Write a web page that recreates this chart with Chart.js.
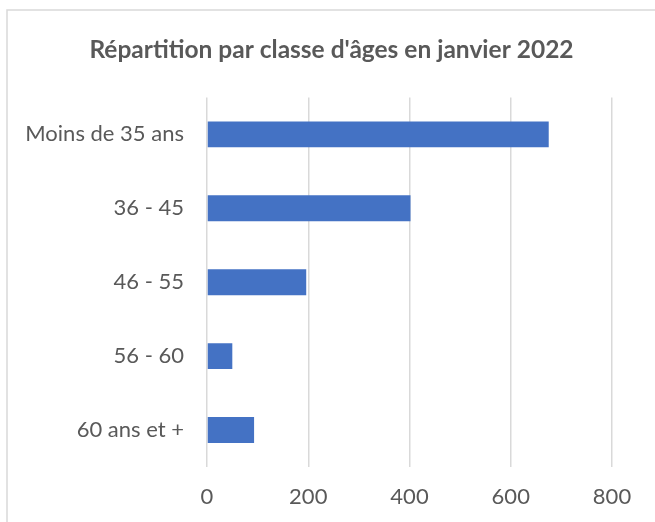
<!DOCTYPE html>
<html>
<head>
<meta charset="utf-8">
<script src="https://cdn.jsdelivr.net/npm/chart.js@4/dist/chart.umd.min.js"></script>
<style>
  html, body { margin: 0; padding: 0; background: #fff; }
  #wrap { width: 655px; height: 522px; }
</style>
</head>
<body>
<div id="wrap"><canvas id="myChart" width="655" height="522"></canvas></div>
<script>
// data
var categories = ["Moins de 35 ans", "36 - 45", "46 - 55", "56 - 60", "60 ans et +"];
var effectifs = [675, 402, 196, 50, 93];
var xTicks = [0, 200, 400, 600, 800];
var chartTitle = "Répartition par classe d'âges en janvier 2022";

var textColor = '#595959';
var gridColor = '#d9d9d9';
var barColor = '#4472C4';
var fontFamily = "Lato, 'Open Sans', sans-serif";

// thin grey frame on the left and top, like the spreadsheet chart area
var framePlugin = {
    id: 'frame',
    beforeDraw: function(chart) {
        var ctx = chart.ctx;
        ctx.save();
        ctx.strokeStyle = gridColor;
        ctx.lineWidth = 1.5;
        ctx.beginPath();
        ctx.moveTo(7, chart.height);
        ctx.lineTo(7, 10);
        ctx.lineTo(chart.width, 10);
        ctx.stroke();
        ctx.restore();
    }
};

new Chart(document.getElementById('myChart'), {
    type: 'bar',
    data: {
        labels: categories,
        datasets: [{
            data: effectifs,
            backgroundColor: barColor,
            borderWidth: 0,
            categoryPercentage: 1,
            barPercentage: 0.35
        }]
    },
    options: {
        indexAxis: 'y',
        responsive: false,
        animation: false,
        layout: { padding: { left: 8, right: 0, top: 0, bottom: 0 } },
        plugins: {
            legend: { display: false },
            tooltip: { enabled: false },
            title: {
                display: true,
                text: chartTitle,
                color: textColor,
                font: { family: fontFamily, size: 24.5, weight: 'bold', lineHeight: 1.2 },
                padding: { top: 35, bottom: 33 }
            }
        },
        scales: {
            x: {
                min: 0,
                max: xTicks[xTicks.length - 1],
                afterBuildTicks: function(axis) {
                    axis.ticks = xTicks.map(function(v) { return { value: v }; });
                },
                afterFit: function(axis) { axis.height = 55; },
                grid: { color: gridColor, lineWidth: 1.5, drawTicks: false },
                border: { display: false },
                ticks: {
                    color: textColor,
                    padding: 17,
                    font: { family: fontFamily, size: 22 }
                }
            },
            y: {
                afterFit: function(axis) { axis.width = 199; },
                grid: { display: false, drawTicks: false },
                border: { display: false },
                ticks: {
                    color: textColor,
                    padding: 23,
                    font: { family: fontFamily, size: 22 }
                }
            },
            // empty right-hand axis, only to leave the blank margin on the right
            yRight: {
                type: 'category',
                position: 'right',
                afterFit: function(axis) { axis.width = 43; },
                grid: { display: false, drawTicks: false },
                border: { display: false },
                ticks: { display: false }
            }
        }
    },
    plugins: [framePlugin]
});
</script>
</body>
</html>
